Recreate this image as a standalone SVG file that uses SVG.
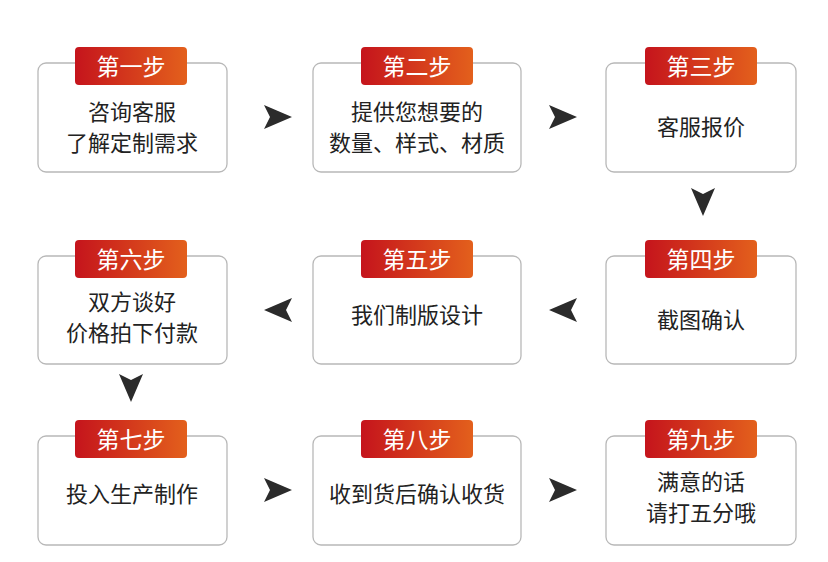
<svg xmlns="http://www.w3.org/2000/svg" width="828" height="562" viewBox="0 0 828 562">
<defs>
<linearGradient id="g" x1="0" x2="1" y1="0" y2="0"><stop offset="0" stop-color="#c5141c"/><stop offset="1" stop-color="#e3601c"/></linearGradient>
<path id="ar" d="M-14,-12 L14,0 L-14,12 L-8,0 Z" fill="#2b2b2b"/>
</defs>
<style>
.box{fill:#fff;stroke:#b8b8b8;stroke-width:1.3}
.lab{fill:url(#g)}
.lt{font-family:"Noto Sans CJK SC",sans-serif;font-size:23px;fill:#fff;text-anchor:middle}
.t{font-family:"Noto Sans CJK SC",sans-serif;font-size:22px;fill:#222;text-anchor:middle}
</style>
<rect width="828" height="562" fill="#fff"/>
<g id="n1"><rect class="box" x="38" y="63" width="189" height="109" rx="8"/><rect class="lab" x="75" y="47" width="112" height="38" rx="4"/><text class="lt" x="131" y="75">第一步</text><text class="t" x="132" y="120">咨询客服</text><text class="t" x="132" y="151">了解定制需求</text></g>
<g id="n2"><rect class="box" x="313" y="63" width="208" height="109" rx="8"/><rect class="lab" x="361" y="47" width="112" height="38" rx="4"/><text class="lt" x="417" y="75">第二步</text><text class="t" x="417" y="120">提供您想要的</text><text class="t" x="417" y="151">数量、样式、材质</text></g>
<g id="n3"><rect class="box" x="606" y="63" width="190" height="109" rx="8"/><rect class="lab" x="645" y="47" width="112" height="38" rx="4"/><text class="lt" x="701" y="75">第三步</text><text class="t" x="701" y="135">客服报价</text></g>
<g id="n4"><rect class="box" x="606" y="256" width="190" height="108" rx="8"/><rect class="lab" x="645" y="240" width="112" height="38" rx="4"/><text class="lt" x="701" y="268">第四步</text><text class="t" x="701" y="328">截图确认</text></g>
<g id="n5"><rect class="box" x="313" y="256" width="208" height="108" rx="8"/><rect class="lab" x="361" y="240" width="112" height="38" rx="4"/><text class="lt" x="417" y="268">第五步</text><text class="t" x="417" y="323">我们制版设计</text></g>
<g id="n6"><rect class="box" x="38" y="256" width="189" height="108" rx="8"/><rect class="lab" x="75" y="240" width="112" height="38" rx="4"/><text class="lt" x="131" y="268">第六步</text><text class="t" x="132" y="310">双方谈好</text><text class="t" x="132" y="341">价格拍下付款</text></g>
<g id="n7"><rect class="box" x="38" y="436" width="189" height="109" rx="8"/><rect class="lab" x="75" y="420" width="112" height="38" rx="4"/><text class="lt" x="131" y="448">第七步</text><text class="t" x="132" y="502">投入生产制作</text></g>
<g id="n8"><rect class="box" x="313" y="436" width="208" height="109" rx="8"/><rect class="lab" x="361" y="420" width="112" height="38" rx="4"/><text class="lt" x="417" y="448">第八步</text><text class="t" x="417" y="502">收到货后确认收货</text></g>
<g id="n9"><rect class="box" x="606" y="436" width="190" height="109" rx="8"/><rect class="lab" x="645" y="420" width="112" height="38" rx="4"/><text class="lt" x="701" y="448">第九步</text><text class="t" x="701" y="490">满意的话</text><text class="t" x="701" y="521">请打五分哦</text></g>
<g id="connectors">
<use href="#ar" transform="translate(278,117)"/>
<use href="#ar" transform="translate(563,117)"/>
<use href="#ar" transform="translate(703,202) rotate(90)"/>
<use href="#ar" transform="translate(563,310) rotate(180)"/>
<use href="#ar" transform="translate(278,310) rotate(180)"/>
<use href="#ar" transform="translate(131,388) rotate(90)"/>
<use href="#ar" transform="translate(278,490)"/>
<use href="#ar" transform="translate(563,490)"/>
</g>
</svg>
